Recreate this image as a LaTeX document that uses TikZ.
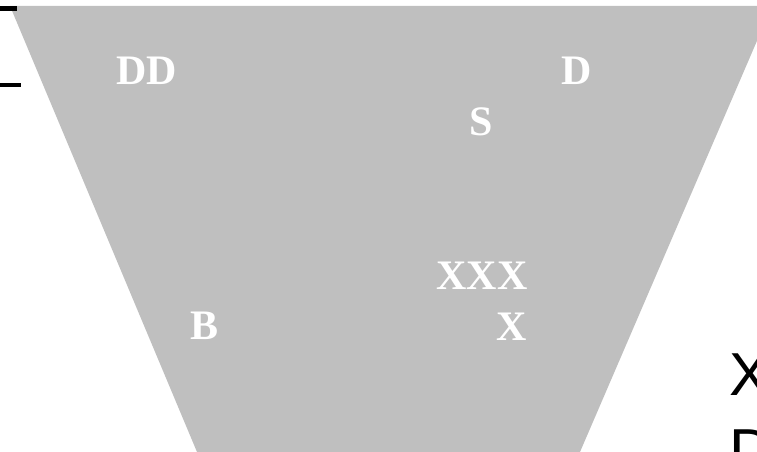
\documentclass[tikz,border=0pt]{standalone}
\usepackage{fontspec}
\setmainfont{Liberation Serif}
\newfontfamily\sansfam{Liberation Sans}
\tikzset{
  lbl/.style={text=white,inner sep=0pt,font=\fontsize{31.5}{36}\selectfont\bfseries},
  side/.style={inner sep=0pt,anchor=base west,font=\fontsize{45.5}{52}\selectfont\sansfam}
}
\begin{document}
\begin{tikzpicture}[x=0.75pt,y=0.75pt]
\useasboundingbox (0,0) rectangle (757,452);
\clip (0,0) rectangle (757,452);

\fill[gray!50!white,fill=black!25] (10,446) -- (772,446) -- (580,0) -- (197,0) -- cycle;

\coordinate (s1a) at (0,443.5);
\coordinate (s1b) at (17,443.5);
\coordinate (s2a) at (0,367);
\coordinate (s2b) at (21,367);
\draw[line width=3.4pt] (s1a) -- (s1b);
\draw[line width=3.4pt] (s2a) -- (s2b);

\node[lbl] (dd) at (147,381.5) {DD};
\node[lbl] (d) at (577,381.5) {D};
\node[lbl] (s) at (481,330.5) {S};
\node[lbl] (xxx) at (482,176.5) {XXX};
\node[lbl] (b) at (204.5,126.5) {B};
\node[lbl] (x) at (512,125.5) {X};

\node[side] (sx) at (729,56) {X};
\node[side] (sd) at (729,-20) {D};
\end{tikzpicture}
\end{document}
